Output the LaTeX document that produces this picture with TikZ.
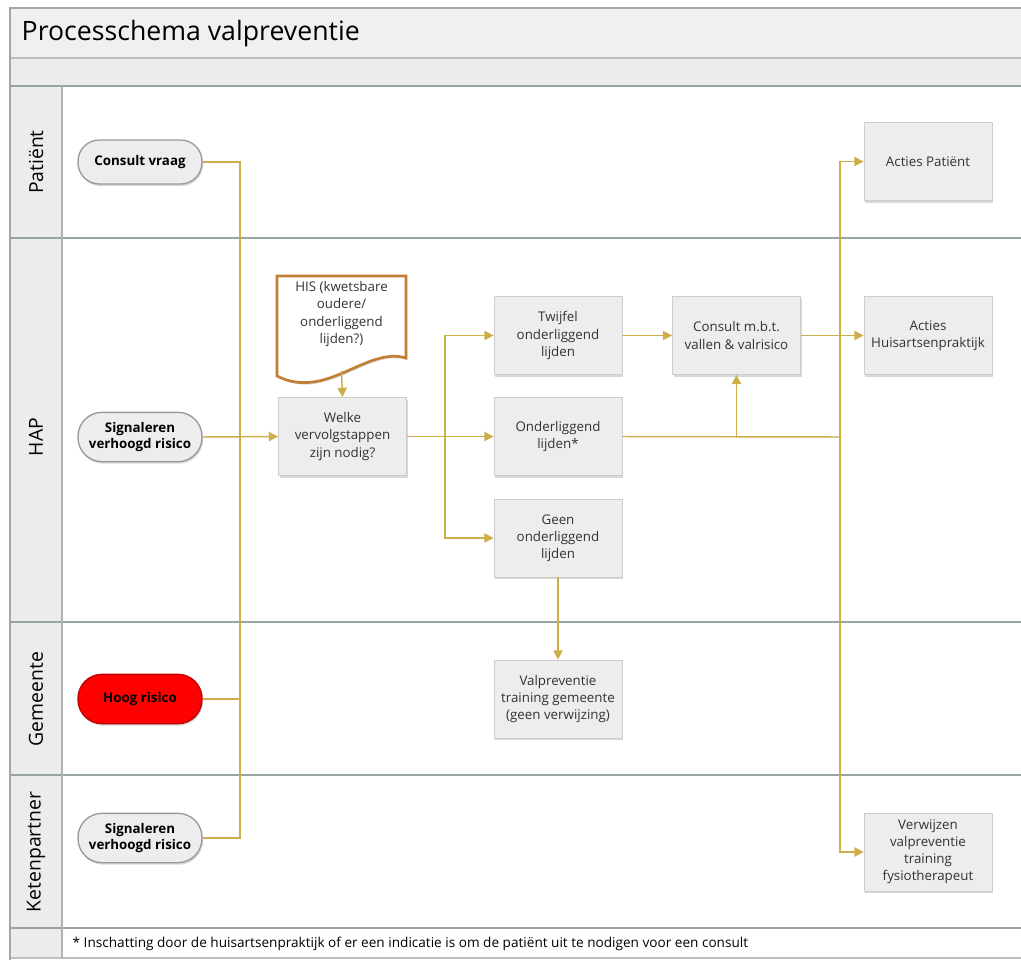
\documentclass[tikz,border=0pt]{standalone}
\usepackage{fontspec}
\setmainfont{Open Sans}
\usetikzlibrary{arrows.meta,shadows,calc}
\definecolor{flowc}{HTML}{CDAE48}
\definecolor{lanebg}{HTML}{ECECEC}
\definecolor{titlebg}{HTML}{F0F0F0}
\definecolor{sepc}{HTML}{97A4A4}
\definecolor{boxfill}{HTML}{EDEDED}
\definecolor{boxline}{HTML}{CDCDCD}
\definecolor{docline}{HTML}{C27E35}
\definecolor{boxtext}{HTML}{333333}
\begin{document}
\begin{tikzpicture}[x=0.75pt,y=-0.75pt,
  font=\fontsize{10}{12.8}\selectfont,
  softshadow/.style={drop shadow={shadow xshift=0.8pt, shadow yshift=-1.5pt, opacity=0.3}},
  stepbox/.style={draw=boxline, line width=0.6pt, fill=boxfill, minimum width=96pt,
    minimum height=58.5pt, align=center, text=boxtext, softshadow},
  pill/.style={draw=black!40, line width=1pt, fill=boxfill, minimum width=93pt,
    minimum height=37pt, rounded corners=18pt, align=center,
    font=\fontsize{10}{12}\selectfont\bfseries, softshadow},
  link/.style={draw=flowc, line width=1.1pt},
  flow/.style={link, -{Triangle[length=7pt,width=7pt]}},
  lanelabel/.style={rotate=90, font=\fontsize{14.5}{17}\selectfont},
  sepline/.style={draw=sepc, line width=2.2pt},
  thinline/.style={draw=black!25, line width=1pt},
]
\useasboundingbox (0,0) rectangle (1021,960);
\fill[white] (0,0) rectangle (1021,960);

% title band, header band and lane label column
\fill[titlebg] (10,8) rectangle (1021,58);
\fill[lanebg] (10,58) rectangle (1021,86);
\fill[lanebg] (10,86) rectangle (62,958);

\draw[thinline] (10,58) -- (1021,58);
\draw[sepline] (10,86) -- (1021,86);
\draw[sepline] (10,238) -- (1021,238);
\draw[sepline] (10,622) -- (1021,622);
\draw[sepline] (10,775) -- (1021,775);
\draw[sepline] (10,928) -- (1021,928);
\draw[thinline] (10,958) -- (1021,958);
\draw[draw=black!30, line width=1pt] (62,86) -- (62,958);
\draw[draw=black!35, line width=1.6pt] (10,960) -- (10,8) -- (1021,8);

\node[anchor=west, font=\fontsize{20}{24}\selectfont] (title) at (17,34) {Processchema valpreventie};

% lane labels
\node[lanelabel] (lanePat) at (36,162) {Patiënt};
\node[lanelabel] (laneHAP) at (36,437) {HAP};
\node[lanelabel] (laneGem) at (36,699) {Gemeente};
\node[lanelabel] (laneKet) at (36,852) {Ketenpartner};

\node[anchor=west, font=\fontsize{10.2}{12}\selectfont] (note) at (68,944)
  {* Inschatting door de huisartsenpraktijk of er een indicatie is om de patiënt uit te nodigen voor een consult};

% start events
\node[pill, minimum height=33pt, rounded corners=16pt] (cv) at (140,162) {Consult vraag};
\node[pill] (sigH) at (140,437) {Signaleren\\verhoogd risico};
\node[pill, fill=red, draw=red!75!black] (hoog) at (140,699) {Hoog risico};
\node[pill] (sigK) at (140,838) {Signaleren\\verhoogd risico};

% document from the HIS: outline with a wavy lower edge, then its text
\coordinate (hisc) at (341.5,314);
\path[draw=docline, line width=2pt, fill=white, softshadow]
  ($(hisc)+(-64.5,-38)$) -- ($(hisc)+(64.5,-38)$) -- ($(hisc)+(64.5,44)$)
  .. controls ($(hisc)+(25,32)$) and ($(hisc)+(-15,87)$) ..
  ($(hisc)+(-64.5,62)$) -- cycle;
\node[align=center, text=boxtext] (his) at (hisc) {HIS (kwetsbare\\oudere/\\onderliggend\\lijden?)};
\coordinate (hisout) at ($(hisc)+(0,57)$);

% process steps
\node[stepbox] (welke) at (342.5,436.5) {Welke\\vervolgstappen\\zijn nodig?};
\node[stepbox] (twijfel) at (558,335.5) {Twijfel\\onderliggend\\lijden};
\node[stepbox] (onder) at (558,436.5) {Onderliggend\\lijden*};
\node[stepbox] (geen) at (558,538) {Geen\\onderliggend\\lijden};
\node[stepbox] (consult) at (736.5,335.5) {Consult m.b.t.\\vallen \& valrisico};
\node[stepbox] (actP) at (928,161.5) {Acties Patiënt};
\node[stepbox] (actH) at (928,335.5) {Acties\\Huisartsenpraktijk};
\node[stepbox] (valp) at (558,699) {Valpreventie\\training gemeente\\(geen verwijzing)};
\node[stepbox] (verw) at (928,852) {Verwijzen\\valpreventie\\training\\fysiotherapeut};

% junctions
\coordinate (mergeL) at (240,437);
\coordinate (split) at (445,437);
\coordinate (busR) at (840,437);

% connectors
\draw[link] (cv.east) -| (mergeL);
\draw[link] (hoog.east) -| (mergeL);
\draw[link] (sigK.east) -| (mergeL);
\draw[flow] (sigH.east) -- (welke.west);
\draw[flow] (hisout) -- (welke.north);
\draw[flow] (welke.east) -- (onder.west);
\draw[flow] (split) |- (twijfel.west);
\draw[flow] (split) |- (geen.west);
\draw[flow] (twijfel.east) -- (consult.west);
\draw[link] (onder.east) -- (busR);
\draw[flow] (consult.south |- onder.east) -- (consult.south);
\draw[flow] (consult.east) -- (actH.west);
\draw[flow] (busR) |- (actP.west);
\draw[flow] (busR) |- (verw.west);
\draw[flow] (geen.south) -- (valp.north);
\end{tikzpicture}
\end{document}
